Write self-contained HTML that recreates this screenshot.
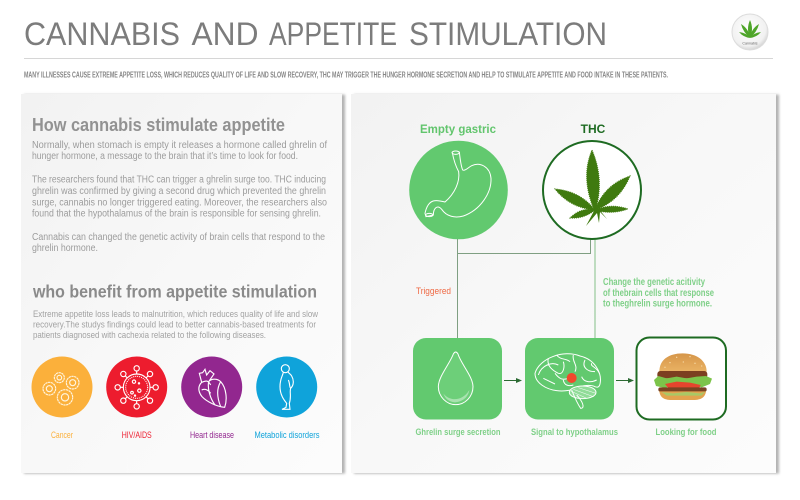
<!DOCTYPE html>
<html><head><meta charset="utf-8"><title>Cannabis and Appetite Stimulation</title>
<style>
html,body{margin:0;padding:0;background:#fff}
svg{display:block;font-family:"Liberation Sans",sans-serif}
.b{font-size:10px;fill:#9c9c9c}
.c{font-size:9.4px;fill:#a2a2a2}
.l{font-size:9.4px;text-anchor:middle}
.t{font-size:32px;fill:#7c7c7c}
</style></head><body>
<svg width="800" height="500" viewBox="0 0 800 500" xmlns="http://www.w3.org/2000/svg">
<defs>
<linearGradient id="p" x1="0" y1="0" x2="1" y2="1"><stop offset="0" stop-color="#f2f2f2"/><stop offset=".5" stop-color="#f8f8f8"/><stop offset="1" stop-color="#fcfcfc"/></linearGradient>
<radialGradient id="lg" cx=".45" cy=".4" r=".65"><stop offset="0" stop-color="#fff"/><stop offset=".75" stop-color="#f1f1f1"/><stop offset="1" stop-color="#c9c9c9"/></radialGradient>
<linearGradient id="bun" x1="0" y1="0" x2="0" y2="1"><stop offset="0" stop-color="#d6964a"/><stop offset="1" stop-color="#e9b263"/></linearGradient>
<filter id="s" x="-5%" y="-5%" width="110%" height="110%"><feDropShadow dx="3" dy=".6" stdDeviation="1.300" flood-color="#000" flood-opacity=".3"/></filter>
</defs>
<rect width="800" height="500" fill="#fff"/>

<!-- header -->
<text class="t" x="24" y="45" textLength="156" lengthAdjust="spacingAndGlyphs">CANNABIS</text>
<text class="t" x="191.500" y="45" textLength="67" lengthAdjust="spacingAndGlyphs">AND</text>
<text class="t" x="269" y="45" textLength="128" lengthAdjust="spacingAndGlyphs">APPETITE</text>
<text class="t" x="409" y="45" textLength="198" lengthAdjust="spacingAndGlyphs">STIMULATION</text>
<rect x="24" y="58" width="749" height="1" fill="#d6d6d6"/>
<text x="24" y="77.300" font-size="7.800" font-weight="bold" fill="#858585" textLength="644" lengthAdjust="spacingAndGlyphs">MANY ILLNESSES CAUSE EXTREME APPETITE LOSS, WHICH REDUCES QUALITY OF LIFE AND SLOW RECOVERY, THC MAY TRIGGER THE HUNGER HORMONE SECRETION AND HELP TO STIMULATE APPETITE AND FOOD INTAKE IN THESE PATIENTS.</text>
<circle cx="750" cy="32" r="18" fill="url(#lg)" stroke="#dcdcdc"/>
<g fill="#4fa62a">
<path d="M750 38Q746 29 750 20Q754 29 750 38Z"/><path d="M750 38Q743 32 741 24Q749 29 750 38Z"/><path d="M750 38Q757 32 759 24Q751 29 750 38Z"/><path d="M750 38Q743 37 739 32Q747 33 750 38Z"/><path d="M750 38Q757 37 761 32Q753 33 750 38Z"/>
</g>
<text x="750" y="44.500" font-size="3.600" fill="#666" text-anchor="middle">Cannabis</text>

<!-- panels -->
<rect x="21" y="94" width="321" height="379" fill="url(#p)" filter="url(#s)"/>
<rect x="351" y="94" width="425" height="379" fill="url(#p)" filter="url(#s)"/>

<!-- left text -->
<text x="32" y="131" font-size="18" font-weight="bold" fill="#929292" textLength="253" lengthAdjust="spacingAndGlyphs">How cannabis stimulate appetite</text>
<text class="b" x="32" y="148" textLength="295" lengthAdjust="spacingAndGlyphs">Normally, when stomach is empty it releases a hormone called ghrelin of</text>
<text class="b" x="32" y="159" textLength="266" lengthAdjust="spacingAndGlyphs">hunger hormone, a message to the brain that it’s time to look for food.</text>
<text class="b" x="32" y="182.500" textLength="294" lengthAdjust="spacingAndGlyphs">The researchers found that THC can trigger a ghrelin surge too. THC inducing</text>
<text class="b" x="32" y="194" textLength="294" lengthAdjust="spacingAndGlyphs">ghrelin was confirmed by giving a second drug which prevented  the ghrelin</text>
<text class="b" x="32" y="205.500" textLength="295" lengthAdjust="spacingAndGlyphs">surge, cannabis no longer triggered eating. Moreover, the researchers also</text>
<text class="b" x="32" y="216.500" textLength="289" lengthAdjust="spacingAndGlyphs">found that the hypothalamus of the brain is responsible  for sensing ghrelin.</text>
<text class="b" x="32" y="240" textLength="293" lengthAdjust="spacingAndGlyphs">Cannabis can changed the genetic activity of brain cells that respond to the</text>
<text class="b" x="32" y="251" textLength="66" lengthAdjust="spacingAndGlyphs">ghrelin hormone.</text>

<text x="33" y="297.500" font-size="17.500" font-weight="bold" fill="#8a8a8a" textLength="284" lengthAdjust="spacingAndGlyphs">who benefit from appetite stimulation</text>
<text class="c" x="33" y="317" textLength="285" lengthAdjust="spacingAndGlyphs">Extreme appetite loss leads to malnutrition, which reduces quality of life and slow</text>
<text class="c" x="33" y="327.500" textLength="283" lengthAdjust="spacingAndGlyphs">recovery.The studys findings could lead to better cannabis-based treatments for</text>
<text class="c" x="33" y="338" textLength="233" lengthAdjust="spacingAndGlyphs">patients diagnosed with cachexia related to the following diseases.</text>

<!-- disease circles -->
<circle cx="62" cy="387" r="30.500" fill="#fbb03b"/>
<circle cx="136.700" cy="387" r="30.500" fill="#ed1c2e"/>
<circle cx="211.700" cy="387" r="30.500" fill="#92278f"/>
<circle cx="286.700" cy="387" r="30.500" fill="#0fa3da"/>

<!-- icons, zoom coordinates -->
<g transform="translate(20 350) scale(.33333)" fill="none" stroke="#fff" stroke-width="3.400">
 <g stroke="#fff5e0">
  <circle cx="118" cy="83" r="15" stroke-dasharray="7 1.500"/><circle cx="118" cy="83" r="7"/>
  <circle cx="158" cy="98" r="19" stroke-dasharray="7 1.500"/><circle cx="158" cy="98" r="9"/>
  <circle cx="88" cy="116" r="19" stroke-dasharray="7 1.500"/><circle cx="88" cy="116" r="9"/>
  <circle cx="135" cy="142" r="23" stroke-dasharray="7 1.500"/><circle cx="135" cy="142" r="11"/>
 </g>
 <circle cx="350" cy="112" r="40"/><circle cx="350" cy="112" r="33" stroke-dasharray="3 3"/>
 <path d="M350 72V62M350 152V162M310 112H300M390 112H400M322 84L315 77M378 84L385 77M322 140L315 147M378 140L385 147"/>
 <circle cx="350" cy="55" r="8"/><circle cx="350" cy="169" r="8"/><circle cx="293" cy="112" r="8"/><circle cx="407" cy="112" r="8"/><circle cx="310" cy="72" r="8"/><circle cx="390" cy="72" r="8"/><circle cx="310" cy="152" r="8"/><circle cx="390" cy="152" r="8"/>
 <circle cx="342" cy="95" r="5"/><circle cx="358" cy="122" r="5"/><circle cx="336" cy="128" r="4"/><circle cx="357" cy="100" r="2"/><circle cx="345" cy="137" r="2"/>
 <path d="M548 68L538 70L545 97C530 112 538 130 546 140C560 155 590 170 614 172C622 150 620 115 602 95C592 85 574 85 566 95L582 72L570 62L560 75L555 58L548 68Z"/>
 <path d="M566 95C562 115 570 145 585 165M602 95C590 115 590 140 602 170M545 97C560 90 565 92 572 105M545 120C555 115 565 120 572 130"/>
 <circle cx="796" cy="56" r="12"/>
 <path d="M790 67C788 78 780 85 780 110C780 135 792 150 800 160L798 172L786 178L810 178L808 160C815 140 808 125 812 115C822 105 822 90 815 78C812 72 806 70 804 66"/>
 <path d="M805 90C810 100 808 112 812 115"/>
</g>

<text class="l" x="62" y="438" fill="#fbb03b" textLength="22" lengthAdjust="spacingAndGlyphs">Cancer</text>
<text class="l" x="136.700" y="438" fill="#ed1c2e" textLength="30" lengthAdjust="spacingAndGlyphs">HIV/AIDS</text>
<text class="l" x="212" y="438" fill="#92278f" textLength="44" lengthAdjust="spacingAndGlyphs">Heart disease</text>
<text class="l" x="287" y="438" fill="#0fa3da" textLength="65" lengthAdjust="spacingAndGlyphs">Metabolic disorders</text>

<!-- right panel heading -->
<text x="458" y="133" font-size="12" font-weight="bold" fill="#62c56d" text-anchor="middle" textLength="76" lengthAdjust="spacingAndGlyphs">Empty gastric</text>
<text x="593" y="133" font-size="12" font-weight="bold" fill="#1e6b22" text-anchor="middle">THC</text>

<!-- connectors -->
<path d="M457.500 238V338M457.500 253.500H590.500V238" fill="none" stroke="#7f9f82" stroke-width="1"/>
<path d="M595 238V338" fill="none" stroke="#a5cfa8" stroke-width="1.400"/>

<!-- circles -->
<circle cx="458.500" cy="190" r="49.300" fill="#62c96f"/>
<circle cx="592" cy="190" r="49" fill="#fff" stroke="#1e6b22" stroke-width="2"/>

<!-- stomach -->
<g transform="translate(400 110) scale(.33333)" fill="none" stroke="#fff" stroke-width="3">
 <path d="M157 128C162 155 168 170 176 185C180 215 165 250 135 276C112 270 85 262 75 310L78 320L100 315C100 295 112 283 125 298C140 320 165 325 190 318C240 300 275 250 273 205C270 170 240 155 215 167C205 172 195 184 188 180C182 165 180 145 178 125"/>
 <ellipse cx="167" cy="128" rx="11" ry="5"/>
 <ellipse cx="88" cy="315" rx="11" ry="5"/>
</g>

<!-- leaf -->
<g fill="#3f7a0f" stroke="#3f7a0f" stroke-width="1" stroke-dasharray="1 1">
 <path d="M595 212Q580 178 592 150Q605 180 595 212Z"/>
 <path d="M595 210Q580 191 555 189Q570 208 595 210Z"/>
 <path d="M595 210Q620 201 630 176Q604 185 595 210Z"/>
 <path d="M595 210Q584 219 570 218Q581 207 595 210Z"/>
 <path d="M595 210Q611 215 628 209Q611 203 595 210Z"/>
</g>
<path d="M595 209L586 226L597 213L599 223L600 212L607 219L598 208Z" fill="#3f7a0f"/>

<!-- labels on connectors -->
<text x="433.500" y="294" font-size="9" fill="#ef6a45" text-anchor="middle" textLength="35" lengthAdjust="spacingAndGlyphs">Triggered</text>
<g font-size="9.800" font-weight="bold" fill="#7fd088">
 <text x="603" y="285" textLength="102" lengthAdjust="spacingAndGlyphs">Change the genetic acitivity</text>
 <text x="603" y="296" textLength="111" lengthAdjust="spacingAndGlyphs">of thebrain cells that response</text>
 <text x="603" y="306.500" textLength="109" lengthAdjust="spacingAndGlyphs">to theghrelin surge hormone.</text>
</g>

<!-- boxes -->
<rect x="413" y="338" width="89" height="81.500" rx="13" fill="#62c96f"/>
<rect x="525" y="338" width="89" height="81.500" rx="13" fill="#62c96f"/>
<rect x="636.500" y="337.500" width="89.500" height="82" rx="13" fill="#fff" stroke="#1e6b22" stroke-width="2"/>

<!-- arrows -->
<path d="M504 380.500H518" stroke="#2c6a33" stroke-width="1"/>
<path d="M522 380.500L516 378V383Z" fill="#2c6a33"/>
<path d="M616 380.500H630" stroke="#2c6a33" stroke-width="1"/>
<path d="M634 380.500L628 378V383Z" fill="#2c6a33"/>

<g transform="translate(400 330) scale(.33333)">
 <!-- drop -->
 <path d="M160 72C150 100 115 140 115 170C115 200 140 224 167 224C195 224 219 200 219 170C219 140 182 100 174 72Q167 60 160 72Z" fill="#6dcf79" stroke="#fff" stroke-width="3"/>
 <path d="M130 190C145 212 185 218 208 180C205 200 190 215 165 217C145 215 135 205 130 190Z" fill="#a8e2af"/>
 <!-- brain -->
 <g fill="none" stroke="#fff" stroke-width="3">
  <path d="M405 130C418 85 490 58 540 78C585 88 607 130 600 162C597 174 590 172 585 170C575 165 555 165 540 170C525 180 495 185 470 182C440 178 405 160 405 130Z"/>
  <path d="M415 135C425 105 455 95 475 105M445 85C440 105 455 120 475 130C490 135 495 110 490 95M520 75C515 95 535 105 525 125M555 90C545 110 560 125 585 125M430 145L465 162M465 130C480 150 490 150 505 145M545 140C550 155 570 160 590 150M470 75C480 90 500 85 510 95M490 150C492 165 505 170 520 165M575 100C570 110 590 110 598 130"/>
  <ellipse cx="548" cy="187" rx="40" ry="19" fill="#90dc98"/>
  <path d="M515 180C525 205 535 225 542 235C552 235 550 225 545 215C540 205 535 200 530 195"/>
  <path d="M520 178L580 200M535 173L588 190M512 183L560 205" stroke-width="1.500"/>
 </g>
 <circle cx="515" cy="144" r="15" fill="#f2492c"/>
 <!-- burger -->
 <path d="M778 125C778 90 805 70 848 70C890 70 920 92 920 125Z" fill="url(#bun)"/>
 <g fill="#f7dca8"><circle cx="810" cy="98" r="2"/><circle cx="830" cy="82" r="2"/><circle cx="850" cy="96" r="2"/><circle cx="870" cy="80" r="2"/><circle cx="885" cy="100" r="2"/><circle cx="905" cy="108" r="2"/><circle cx="795" cy="112" r="2"/></g>
 <rect x="772" y="123" width="150" height="22" rx="9" fill="#7c3f20"/>
 <path d="M762 150L775 138L800 145L830 140L860 145L890 140L918 138L936 146L930 162L905 172L880 165L850 172L820 165L795 174L768 168Z" fill="#7cc44a"/>
 <path d="M795 162L830 155L870 158L902 165L895 180L850 183L810 180Z" fill="#e5452d"/>
 <rect x="775" y="172" width="145" height="13" rx="6" fill="#7a4322"/>
 <path d="M778 184H918C916 200 905 210 880 210H815C790 210 780 200 778 184Z" fill="#e2a34f"/>
 <path d="M785 186L820 190L860 186L900 190L915 185L905 197H800Z" fill="#a9c866"/>
</g>

<!-- box labels -->
<g font-size="9.600" font-weight="bold" fill="#7fd088" text-anchor="middle">
 <text x="458" y="435" textLength="85" lengthAdjust="spacingAndGlyphs">Ghrelin surge secretion</text>
 <text x="574.500" y="435" textLength="87" lengthAdjust="spacingAndGlyphs">Signal to hypothalamus</text>
 <text x="686" y="435" textLength="61" lengthAdjust="spacingAndGlyphs">Looking for food</text>
</g>
</svg>
</body></html>
